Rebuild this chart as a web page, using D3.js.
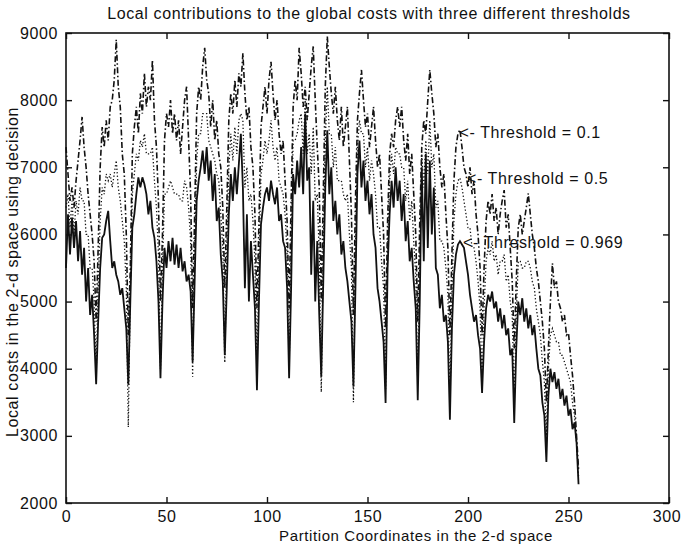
<!DOCTYPE html>
<html>
<head>
<meta charset="utf-8">
<script src="https://cdn.jsdelivr.net/npm/d3@7"></script>
<style>
  body { margin: 0; background: #fff; }
  svg text { font-family: "Liberation Sans", Arial, sans-serif; fill: #111; letter-spacing: 0.6px; }
</style>
</head>
<body>
<svg id="chart" width="681" height="544"></svg>
<script>
// local costs per partition (256 partitions, 16 blocks of 16), one list per threshold
var costT01 = [
  7300, 6900, 6500, 6700, 6400, 6800, 7100, 7400, 7750, 7300, 7000, 6600, 6300, 6000, 5600, 4700,
  5800, 7000, 7600, 7300, 7700, 7400, 7900, 8000, 8300, 8900, 8200, 7900, 7200, 6900, 6000, 4500,
  5500, 7200, 7600, 7900, 7500, 8100, 7800, 8400, 7900, 8200, 8000, 8600, 7700, 7300, 6500, 5000,
  6000, 7400, 7800, 7600, 8000, 7500, 7800, 7400, 7700, 7200, 7600, 8000, 8200, 7400, 6600, 4900,
  6300, 7800, 8200, 8000, 8500, 8780, 8300, 8100, 7600, 8000, 7400, 7700, 7200, 7000, 6400, 5200,
  6400, 7700, 8100, 7800, 8300, 7900, 8400, 8200, 8700, 8100, 7700, 7900, 7300, 7000, 6300, 4900,
  6200, 7600, 7900, 8200, 7800, 8300, 8570, 8100, 7700, 8000, 7500, 7200, 7400, 6800, 6200, 4900,
  6500, 7900, 8300, 8000, 8780, 8400, 7900, 8200, 7700, 8100, 8500, 8800, 8000, 7300, 6700, 5000,
  6600, 8200, 8950, 8500, 8100, 7800, 8200, 7700, 7400, 7900, 7300, 7600, 7900, 7100, 6300, 4800,
  6500, 7700, 8100, 8450, 8000, 7600, 7800, 7300, 7600, 7900, 7400, 7000, 7200, 6600, 6000, 4600,
  6200, 7200, 7500, 7300, 7700, 7900, 7600, 7900, 7400, 7100, 7500, 6900, 7200, 6600, 6000, 4700,
  6200, 7300, 7700, 7500, 8000, 8450, 8100, 7800, 7300, 7500, 7000, 6700, 6900, 6300, 5800, 4500,
  5700, 6800, 7300, 7500, 7560, 7300, 7000, 6900, 6700, 7000, 6600, 6800, 6300, 6000, 5500, 4500,
  5500, 6200, 6500, 6300, 6600, 6200, 6400, 6000, 6300, 6500, 6660, 6100, 6300, 5800, 5300, 4300,
  5300, 6100, 6300, 6000, 6200, 6400, 6610, 6300, 6000, 5800, 5500, 5300, 5000, 4700, 4300, 3500,
  4300, 5000, 5570, 5200, 5300, 5000, 4900, 4700, 4800, 4500, 4530, 4200, 3900, 3500, 3000, 2500
];
var costT05 = [
  6400, 6600, 6100, 6500, 6000, 6500, 6300, 6700, 6500, 6500, 6000, 6000, 5500, 5500, 5000, 3900,
  5200, 6200, 6700, 6600, 6900, 6800, 6900, 6700, 6900, 7100, 6700, 6500, 6200, 5900, 5200, 3130,
  5200, 6600, 6900, 7200, 7100, 7400, 7300, 7500, 7200, 7200, 7200, 7300, 6800, 6400, 5700, 4000,
  5500, 6600, 6600, 6700, 6800, 6700, 6600, 6600, 6600, 6500, 6500, 6800, 6700, 6400, 5900, 3880,
  5800, 7100, 7500, 7500, 7800, 7800, 7800, 7400, 7300, 7200, 7100, 6900, 6800, 6300, 5800, 4090,
  5800, 7000, 7500, 7100, 7600, 7200, 7700, 7800, 7700, 6700, 7000, 6500, 6600, 6200, 5600, 3900,
  5600, 6900, 7100, 7400, 7200, 7400, 7700, 7300, 7100, 7300, 6800, 6700, 6600, 6300, 5700, 4000,
  5800, 7400, 7400, 7500, 7700, 7800, 7200, 8000, 7200, 7500, 6900, 7600, 6500, 6600, 5700, 3650,
  5900, 7400, 8200, 7500, 7500, 7000, 7300, 6800, 6800, 6800, 6600, 6500, 6600, 6000, 5500, 3500,
  5800, 7300, 7700, 7500, 7500, 7000, 7300, 6800, 7100, 6900, 6600, 6100, 6100, 5600, 5200, 3700,
  5800, 6800, 7200, 6900, 7300, 7200, 7200, 7000, 7000, 6500, 6800, 6200, 6500, 5900, 5400, 3800,
  5600, 7200, 6700, 7400, 6900, 7700, 7000, 7200, 6400, 6500, 5900, 5900, 5800, 5500, 5100, 3500,
  5100, 6200, 6600, 6800, 6840, 6700, 6500, 6300, 6100, 6100, 5800, 5800, 5600, 5300, 4900, 3800,
  4900, 5600, 5800, 5700, 5900, 5600, 5700, 5400, 5600, 5600, 5700, 5300, 5400, 5000, 4800, 3500,
  4800, 5600, 5600, 5500, 5500, 5600, 5600, 5500, 5300, 5200, 4900, 4700, 4500, 4100, 3800, 3000,
  4000, 4500, 4600, 4500, 4400, 4400, 4200, 4200, 4100, 4000, 3900, 3800, 3500, 3300, 2900, 2400
];
var costT0969 = [
  5500, 6300, 5700, 6250, 5800, 6200, 5600, 6050, 5400, 5800, 5000, 5500, 4800, 5100, 4500, 3770,
  4700, 5500, 5950, 6000, 6200, 6350, 5900, 5500, 5600, 5400, 5300, 5100, 5200, 4900, 4600, 3760,
  5000, 6100, 6300, 6600, 6850, 6700, 6850, 6750, 6600, 6300, 6500, 6100, 5950, 5600, 5000, 3860,
  5000, 5800, 5500, 5900, 5600, 5950, 5550, 5850, 5500, 5800, 5450, 5600, 5300, 5400, 5150, 4100,
  5300, 6500, 6800, 7000, 7250, 6900, 7300, 6800, 7100, 6500, 6900, 6200, 6400, 5700, 5300, 4200,
  5200, 6300, 6900, 6500, 7000, 6600, 7050, 7500, 6700, 5200, 6300, 5000, 5900, 5400, 4900, 3680,
  5000, 6150, 6400, 6600, 6700, 6500, 6800, 6600, 6450, 6700, 6200, 6300, 5900, 5800, 5200, 3860,
  5200, 6900, 6600, 7100, 6700, 7300, 6600, 7800, 6800, 7000, 5400, 6500, 5000, 5900, 4800, 3880,
  5300, 6700, 7550, 6600, 7000, 6200, 6500, 6000, 6300, 5700, 5900, 5500, 5300, 5000, 4700, 3730,
  5200, 6900, 7400, 6700, 7100, 6500, 6800, 6300, 6600, 6000, 5800, 5200, 5000, 4700, 4400, 3490,
  5500, 6300, 6800, 6400, 7000, 6500, 6800, 6200, 6600, 5900, 6200, 5600, 5800, 5300, 4900, 3530,
  5000, 7000, 5600, 7200, 5800, 7100, 6000, 6700, 5500, 5400, 4900, 5100, 4700, 4800, 4400, 3240,
  4600, 5400, 5700, 5850, 5900, 5850, 5800, 5600, 5400, 5100, 4900, 4700, 4800, 4500, 4300, 3640,
  4400, 4900, 5100, 5000, 5150, 4900, 5000, 4700, 4900, 4600, 4800, 4500, 4600, 4200, 4300, 3190,
  4300, 5000, 4800, 5050, 4700, 4900, 4600, 4800, 4500, 4650, 4300, 4000, 3900, 3500, 3300, 2610,
  3600, 4000, 3800, 3950, 3700, 3850, 3550, 3700, 3450, 3600, 3300, 3400, 3100, 3200, 2900, 2280
];

var xTicks = [0, 50, 100, 150, 200, 250, 300];
var yTicks = [2000, 3000, 4000, 5000, 6000, 7000, 8000, 9000];

var labels = [
  {text: "<- Threshold = 0.1", x: 195.8, y: 7520},
  {text: "<- Threshold = 0.5", x: 199.5, y: 6840},
  {text: "<- Threshold = 0.969", x: 197.5, y: 5880}
];

(function () {
    var svg = d3.select("#chart"),
        plotLeft = 66, plotRight = 669, plotTop = 33, plotBottom = 503,
        fontSize = 16;

    var x = d3.scaleLinear().domain([0, 300]).range([plotLeft, plotRight]);
    var y = d3.scaleLinear().domain([2000, 9000]).range([plotBottom, plotTop]);

    // the three curves
    var series = [
        {values: costT0969, dash: null, w: 1.8},
        {values: costT05, dash: "1.3,2.2", w: 1.3},
        {values: costT01, dash: "6,2.5,1.5,2.5", w: 1.6}
    ];

    var line = d3.line()
        .x(function (d, i) { return x(i); })
        .y(function (d) { return y(d); });

    series.forEach(function (s) {
        svg.append("path")
            .datum(s.values)
            .attr("d", line)
            .attr("fill", "none")
            .attr("stroke", "#111")
            .attr("stroke-width", s.w)
            .attr("stroke-dasharray", s.dash);
    });

    // box with inward ticks on all sides (matlab style)
    svg.append("rect")
        .attr("x", plotLeft).attr("y", plotTop)
        .attr("width", plotRight - plotLeft).attr("height", plotBottom - plotTop)
        .attr("fill", "none").attr("stroke", "#111").attr("stroke-width", 1.6);

    var xAxis = svg.append("g")
        .attr("transform", "translate(0," + plotBottom + ")")
        .call(d3.axisBottom(x).tickValues(xTicks).tickSize(-6).tickPadding(8))
        .call(function (g) { g.select(".domain").remove(); });
    svg.append("g")
        .attr("transform", "translate(0," + plotTop + ")")
        .call(d3.axisTop(x).tickValues(xTicks).tickSize(-6).tickFormat(""))
        .call(function (g) { g.select(".domain").remove(); });
    svg.append("g")
        .attr("transform", "translate(" + plotLeft + ",0)")
        .call(d3.axisLeft(y).tickValues(yTicks).tickSize(-6).tickPadding(8).tickFormat(d3.format("d")))
        .call(function (g) { g.select(".domain").remove(); });
    svg.append("g")
        .attr("transform", "translate(" + plotRight + ",0)")
        .call(d3.axisRight(y).tickValues(yTicks).tickSize(-6).tickFormat(""))
        .call(function (g) { g.select(".domain").remove(); });

    svg.selectAll(".tick line").attr("stroke", "#111").attr("stroke-width", 1.4);
    svg.selectAll(".tick text").attr("font-size", fontSize).attr("fill", "#111")
        .style("font-family", "'Liberation Sans', Arial, sans-serif");
    // keep the last x label inside the page
    xAxis.selectAll(".tick text").filter(function (d) { return d === 300; }).attr("dx", -2.5);

    // titles
    svg.append("text")
        .attr("x", 369).attr("y", 19)
        .attr("text-anchor", "middle").attr("font-size", fontSize)
        .text("Local contributions to the global costs with three different thresholds");

    svg.append("text")
        .attr("x", 416).attr("y", 541)
        .attr("text-anchor", "middle").attr("font-size", 15)
        .text("Partition Coordinates in the 2-d space");

    svg.append("text")
        .attr("transform", "translate(18," + 272 + ") rotate(-90)")
        .attr("text-anchor", "middle").attr("font-size", fontSize)
        .text("Local costs in the 2-d space using decision");

    // annotations
    svg.selectAll(".note")
        .data(labels)
        .enter()
        .append("text")
        .attr("class", "note")
        .attr("x", function (d) { return x(d.x); })
        .attr("y", function (d) { return y(d.y) + 6; })
        .attr("font-size", fontSize)
        .text(function (d) { return d.text; });
})();
</script>
</body>
</html>
